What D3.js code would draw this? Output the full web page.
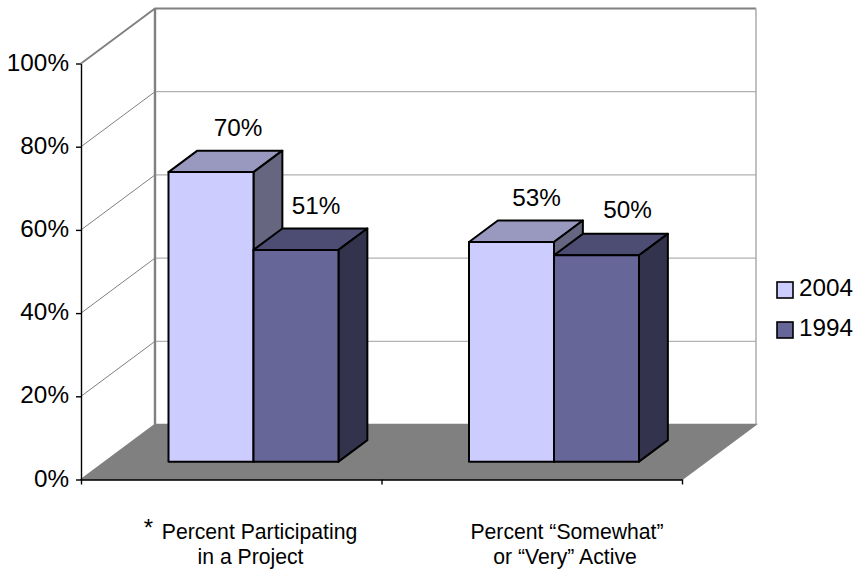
<!DOCTYPE html>
<html>
<head>
<meta charset="utf-8">
<script src="https://cdn.jsdelivr.net/npm/d3@7"></script>
<style>
  html, body { margin: 0; padding: 0; background: #fff; }
  svg { display: block; }
  text { font-family: "Liberation Sans", Arial, sans-serif; fill: #000; }
</style>
</head>
<body>
<svg width="856" height="569"></svg>
<script>
// values
const categories = ['Percent Participating', 'Percent “Somewhat”'];
const categoryLine2 = ['in a Project', 'or “Very” Active'];
const seriesNames = ['2004', '1994'];
const values2004 = [0.696, 0.528];
const values1994 = [0.509, 0.496];
const yTicks = [0, 0.2, 0.4, 0.6, 0.8, 1];

// face colours: front, top, side
const colors2004 = ['#ccccff', '#9999bf', '#666680'];
const colors1994 = ['#666699', '#4d4d73', '#33334d'];

// label tweaks, same order as the bars are drawn
const labelDx = [27, 20, 25, 31];
const labelDy = [-36.5, -36, -36, -37.5];

const svg = d3.select('svg');

// front plane of the box, the back wall is shifted by depth
const plot = {left: 81, right: 682, top: 63.5, bottom: 479.5};
const depth = {x: 74, y: -55};
const barFront = 0.325, barBack = 0.715; // how far into the box the bars sit
const barWidth = 85;

const y = d3.scaleLinear().domain([0, 1]).range([plot.bottom, plot.top]);
const x0 = d3.scaleBand().domain(categories).range([plot.left, plot.right]);
const xTick = d3.scaleLinear().domain([0, 2]).range([plot.left, plot.right]);
const x1 = d3.scaleBand().domain(seriesNames)
    .range([-barWidth, barWidth]);
const fmt = d3.format('.0%');

// project a point (x on the front plane, value, z 0-1 into the box)
const proj = (px, v, z) => [px + depth.x * z, y(v) + depth.y * z];
const path = pts => 'M' + pts.map(p => p.join(',')).join('L') + 'Z';

// floor
svg.append('path')
    .attr('d', path([proj(plot.left, 0, 0), proj(plot.left, 0, 1), proj(plot.right, 0, 1), proj(plot.right, 0, 0)]))
    .attr('fill', '#808080').attr('stroke', '#808080').attr('stroke-width', 1.5);

// gridlines on the left and back walls
const grid = svg.append('g');
yTicks.slice(1, -1).forEach(t => {
  const a = proj(plot.left, t, 0), b = proj(plot.left, t, 1), c = proj(plot.right, t, 1);
  grid.append('line').attr('x1', a[0]).attr('y1', a[1]).attr('x2', b[0]).attr('y2', b[1])
      .attr('stroke', '#808080').attr('stroke-width', 1);
  grid.append('line').attr('x1', b[0]).attr('y1', b[1]).attr('x2', c[0]).attr('y2', c[1])
      .attr('stroke', '#b2b2b2').attr('stroke-width', 1.2);
});

// wall outline
const tl = proj(plot.left, 1, 0), btl = proj(plot.left, 1, 1), btr = proj(plot.right, 1, 1),
      bbl = proj(plot.left, 0, 1), bbr = proj(plot.right, 0, 1);
svg.append('path')
    .attr('d', `M${tl}L${btl}L${btr}`)
    .attr('fill', 'none').attr('stroke', '#808080').attr('stroke-width', 1.8);
svg.append('path')
    .attr('d', `M${btl}L${bbl}`)
    .attr('fill', 'none').attr('stroke', '#808080').attr('stroke-width', 2.4);
svg.append('path')
    .attr('d', `M${btr}L${bbr}`)
    .attr('fill', 'none').attr('stroke', '#a6a6a6').attr('stroke-width', 1.4);

// bars, drawn series by series so 1994 sits over the side of 2004
const bars = [];
categories.forEach((c, i) => {
  bars.push({cat: c, series: seriesNames[0], value: values2004[i], colors: colors2004});
  bars.push({cat: c, series: seriesNames[1], value: values1994[i], colors: colors1994});
});

const barG = svg.append('g').selectAll('g').data(bars).join('g')
    .attr('stroke', '#000').attr('stroke-width', 2).attr('stroke-linejoin', 'round');

const xL = d => x0(d.cat) + x0.bandwidth() / 2 + x1(d.series) - 1.8;
const xR = d => xL(d) + x1.bandwidth();

barG.append('path') // top
    .attr('fill', d => d.colors[1])
    .attr('d', d => path([proj(xL(d), d.value, barFront), proj(xL(d), d.value, barBack),
                          proj(xR(d), d.value, barBack), proj(xR(d), d.value, barFront)]));
barG.append('path') // side
    .attr('fill', d => d.colors[2])
    .attr('d', d => path([proj(xR(d), 0, barFront), proj(xR(d), 0, barBack),
                          proj(xR(d), d.value, barBack), proj(xR(d), d.value, barFront)]));
barG.append('path') // front
    .attr('fill', d => d.colors[0])
    .attr('d', d => path([proj(xL(d), 0, barFront), proj(xL(d), d.value, barFront),
                          proj(xR(d), d.value, barFront), proj(xR(d), 0, barFront)]));

// value labels
svg.append('g').selectAll('text').data(bars).join('text')
    .attr('x', (d, i) => proj((xL(d) + xR(d)) / 2, d.value, barFront)[0] + labelDx[i])
    .attr('y', (d, i) => proj(xL(d), d.value, barFront)[1] + labelDy[i])
    .attr('text-anchor', 'middle')
    .attr('font-size', 24.3)
    .text(d => fmt(d.value));

// axes
const yAxis = svg.append('g')
    .attr('transform', `translate(${plot.left},0)`)
    .call(d3.axisLeft(y).tickValues(yTicks).tickFormat(fmt).tickSize(5).tickPadding(7).tickSizeOuter(0));
yAxis.selectAll('text').attr('font-size', 24.3).attr('dy', '0.27em')
    .style('font-family', '"Liberation Sans", Arial, sans-serif');

svg.append('g')
    .attr('transform', `translate(0,${plot.bottom})`)
    .call(d3.axisBottom(xTick).tickValues([0, 1, 2]).tickFormat('').tickSize(5).tickSizeOuter(0));

svg.selectAll('.domain, .tick line').attr('stroke', '#000').attr('stroke-width', 1.4);

// category labels, two lines each
const labelCenters = [250.5, 567];
const catG = svg.append('g').selectAll('g').data(categories).join('g');
const line1 = catG.append('text')
    .attr('x', (d, i) => labelCenters[i]).attr('y', 539)
    .attr('text-anchor', 'middle').attr('font-size', 21.2);
line1.filter((d, i) => i === 0).append('tspan')
    .attr('font-size', 24).text('*').attr('dy', -3);
line1.filter((d, i) => i === 0).append('tspan')
    .attr('dx', 8.7).attr('dy', 3).text(d => d);
line1.filter((d, i) => i === 1).text(d => d);
catG.append('text')
    .attr('x', (d, i) => i === 1 ? labelCenters[i] - 2 : labelCenters[i]).attr('y', 564)
    .attr('text-anchor', 'middle').attr('font-size', 21.2)
    .text((d, i) => categoryLine2[i]);

// legend
const legend = svg.append('g').selectAll('g').data(seriesNames).join('g')
    .attr('transform', (d, i) => `translate(777,${282 + i * 40})`);
legend.append('rect')
    .attr('width', 16).attr('height', 16)
    .attr('fill', (d, i) => (i === 0 ? colors2004 : colors1994)[0])
    .attr('stroke', '#000').attr('stroke-width', 1.6);
legend.append('text')
    .attr('x', 22).attr('y', 14)
    .attr('font-size', 24.3)
    .text(d => d);
</script>
</body>
</html>
